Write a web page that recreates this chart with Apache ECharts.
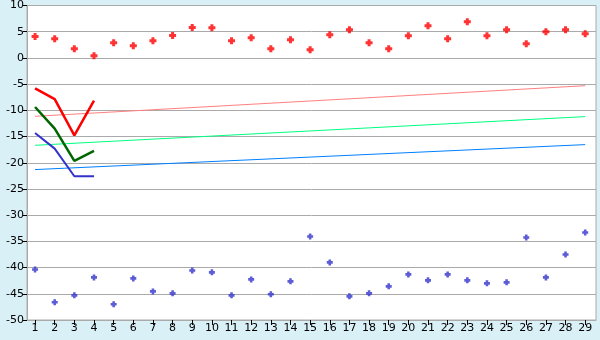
<!DOCTYPE html>
<html>
<head>
<meta charset="utf-8">
<script src="https://cdn.jsdelivr.net/npm/echarts@6/dist/echarts.min.js"></script>
<style>
html,body{margin:0;padding:0;background:#daf0f7;}
#chart{width:600px;height:340px;}
</style>
</head>
<body>
<div id="chart"></div>
<script>
var categories = [1,2,3,4,5,6,7,8,9,10,11,12,13,14,15,16,17,18,19,20,21,22,23,24,25,26,27,28,29];
var yTicks = [-50,-45,-40,-35,-30,-25,-20,-15,-10,-5,0,5,10];
var redPoints = [4.1,3.65,1.75,0.41,2.89,2.32,3.27,4.29,5.81,5.75,3.27,3.84,1.75,3.46,1.56,4.41,5.37,2.89,1.75,4.22,6.13,3.65,6.89,4.22,5.37,2.7,4.98,5.37,4.6];
var bluePoints = [-40.35,-46.63,-45.3,-41.87,-47.0,-42.06,-44.54,-44.92,-40.54,-40.91,-45.3,-42.25,-45.1,-42.63,-34.06,-39.01,-45.49,-44.92,-43.58,-41.3,-42.44,-41.3,-42.44,-43.01,-42.82,-34.25,-41.87,-37.49,-33.3];
var lineX = [1,2,3,4];
var redLine = [-5.8,-7.85,-14.76,-8.15];
var greenLine = [-9.37,-13.49,-19.65,-17.75];
var blueLine = [-14.32,-17.3,-22.57,-22.57];
var trendX = [1,29];
var pinkTrend = [-11.14,-5.3];
var greenTrend = [-16.67,-11.2];
var blueTrend = [-21.3,-16.54];

function pairs(xs, ys){ return ys.map(function(v,i){ return [xs[i], v]; }); }
var plus = 'path://M2,0H5V2H7V5H5V7H2V5H0V2H2Z';
var font = {fontFamily:'DejaVu Sans', fontSize:11, color:'#000'};

var chart = echarts.init(document.getElementById('chart'));
chart.setOption({
  animation:false,
  backgroundColor:'#daf0f7',
  grid:{left:27,right:4,top:5,bottom:20,show:true,backgroundColor:'#ffffff',borderColor:'#aaaaaa',borderWidth:1},
  xAxis:{type:'value',min:0.59,max:29.55,
    axisLine:{show:true,onZero:false,lineStyle:{color:'#aaaaaa'}},
    axisTick:{show:true,length:5,lineStyle:{color:'#000'},customValues:categories},
    axisLabel:Object.assign({margin:3,customValues:categories},font),
    splitLine:{show:false}},
  yAxis:{type:'value',min:-50,max:10,interval:5,
    axisLine:{show:true,onZero:false,lineStyle:{color:'#aaaaaa'}},
    axisTick:{show:true,length:4,lineStyle:{color:'#000'}},
    axisLabel:Object.assign({margin:3,customValues:yTicks},font),
    splitLine:{show:true,lineStyle:{color:'#aaaaaa',width:1}}},
  series:[
    {type:'line',data:pairs(trendX,pinkTrend),symbol:'none',lineStyle:{color:'#ff8080',width:1},z:2},
    {type:'line',data:pairs(trendX,greenTrend),symbol:'none',lineStyle:{color:'#00ff80',width:1},z:2},
    {type:'line',data:pairs(trendX,blueTrend),symbol:'none',lineStyle:{color:'#0080ff',width:1},z:2},
    {type:'line',data:pairs(lineX,redLine),symbol:'none',lineStyle:{color:'#ff0000',width:2.5},z:3},
    {type:'line',data:pairs(lineX,greenLine),symbol:'none',lineStyle:{color:'#006600',width:2.5},z:3},
    {type:'line',data:pairs(lineX,blueLine),symbol:'none',lineStyle:{color:'#3333cc',width:2},z:3},
    {type:'scatter',data:pairs(categories,redPoints),symbol:plus,symbolSize:7,itemStyle:{color:'#ff0000'},z:4},
    {type:'scatter',data:pairs(categories,bluePoints),symbol:plus,symbolSize:6,itemStyle:{color:'#3333cc'},z:4}
  ]
});
</script>
</body>
</html>
